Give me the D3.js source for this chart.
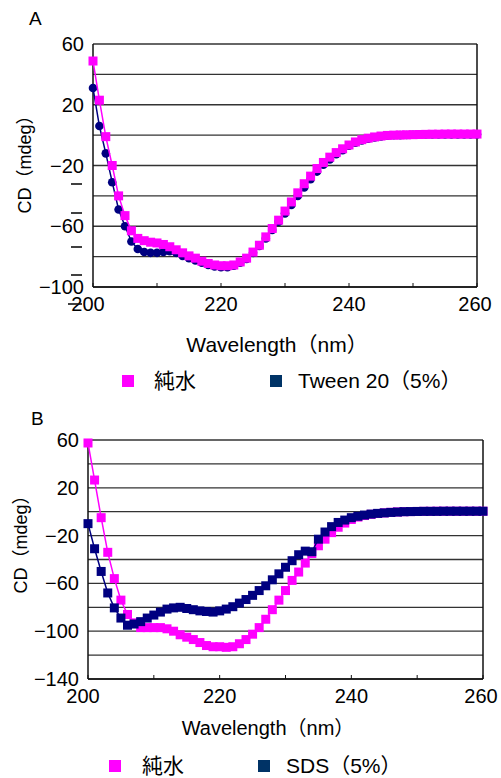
<!DOCTYPE html>
<html>
<head>
<meta charset="utf-8">
<script src="https://cdn.jsdelivr.net/npm/d3@7"></script>
<style>
  body { margin: 0; background: #fff; }
  svg text { font-family: "Liberation Sans", Arial, "Noto Sans CJK JP", sans-serif; fill: #000; }
</style>
</head>
<body>
<div id="chart"></div>
<script>
// wavelength (nm), one reading per nm
const wavelength = [200,201,202,203,204,205,206,207,208,209,210,211,212,213,214,215,216,217,218,219,
  220,221,222,223,224,225,226,227,228,229,230,231,232,233,234,235,236,237,238,239,
  240,241,242,243,244,245,246,247,248,249,250,251,252,253,254,255,256,257,258,259,260];

// panel A
const waterA = [48.8,23,-1,-20,-40,-53,-63,-68,-69.5,-70.5,-71,-72,-73.5,-75.5,-77.5,-79.5,-81,-83,-84.5,-85.5,
  -86,-86,-85.5,-83.5,-81,-77,-72.5,-67,-61.5,-56,-50,-44,-38,-32,-27,-22,-18,-14.5,-11.5,-9,
  -6.5,-4.5,-3,-2,-1.2,-0.6,-0.2,0,0.1,0.2,0.3,0.4,0.5,0.6,0.6,0.7,0.7,0.7,0.7,0.7,0.7];
const tweenA = [31,6,-12,-31,-49,-60,-70,-75,-77,-77.5,-77.5,-77,-76.5,-77.5,-79.5,-81,-82.5,-84,-85.5,-86.5,
  -87,-87,-86,-84,-81.5,-77.5,-73,-68,-62.5,-57,-51.5,-46,-40,-34.5,-29,-24,-19.5,-16,-12.5,-10,
  -7,-5,-3.5,-2.3,-1.5,-0.8,-0.4,-0.1,0,0.1,0.2,0.3,0.4,0.4,0.5,0.5,0.5,0.5,0.5,0.5,0.5];

// panel B
const waterB = [57.5,26.5,-5,-34,-56,-74,-86,-93,-97,-97,-97,-97,-98,-100,-103,-105,-107,-109.5,-112,-113,
  -113,-113.5,-113,-110.5,-107,-102.5,-97,-90,-82,-74,-66,-57.5,-50.5,-43,-35,-28.5,-23,-17.5,-13,-9.5,
  -6.5,-4.5,-3.2,-2.2,-1.5,-1,-0.5,-0.2,0,0.1,0.2,0.3,0.3,0.4,0.4,0.4,0.4,0.4,0.4,0.4,0.4];
const sdsB = [-10,-31,-50,-68,-80.5,-89,-95,-94,-92,-89,-86.5,-84,-81.5,-80.5,-80,-81,-82,-83,-83.5,-84,
  -83,-81.5,-79.5,-76.5,-73.5,-70,-66,-62,-57,-52,-46.5,-41,-36,-33,-33.5,-23,-17,-12.5,-9,-7,
  -5,-3.8,-2.8,-2,-1.4,-1,-0.6,-0.3,0,0.1,0.2,0.3,0.3,0.3,0.4,0.4,0.4,0.4,0.4,0.4,0.4];

const xTicks = [200,210,220,230,240,250,260];
const xTickLabels = [200,220,240,260];
const yTicksA = [60,40,20,0,-20,-40,-60,-80,-100];
const yLabelsA = [60,20,-20,-60,-100];
const yTicksB = [60,40,20,0,-20,-40,-60,-80,-100,-120,-140];
const yLabelsB = [60,20,-20,-60,-100,-140];

const PINK = "#ff00ff";
const NAVY = "#000080";
const NAVY_KEY = "#003366";

const svg = d3.select("#chart").append("svg")
  .attr("width", 501)
  .attr("height", 778);

const fmt = v => (v < 0 ? "\u2212" + Math.abs(v) : "" + v);

function panel(cfg) {
  const x = d3.scaleLinear().domain([200, 260]).range([cfg.left, cfg.right]);
  const y = d3.scaleLinear().domain(cfg.yDomain).range([cfg.bottom, cfg.top]);
  const g = svg.append("g");

  // grid
  g.selectAll("line.grid")
    .data(cfg.yTicks)
    .enter().append("line")
    .attr("x1", cfg.left).attr("x2", cfg.right)
    .attr("y1", d => y(d)).attr("y2", d => y(d))
    .attr("stroke", "#333").attr("stroke-width", 1.3);

  // frame
  g.append("line").attr("x1", cfg.left).attr("x2", cfg.left)
    .attr("y1", cfg.top).attr("y2", cfg.bottom).attr("stroke", "#111").attr("stroke-width", 1.5);
  g.append("line").attr("x1", cfg.right).attr("x2", cfg.right)
    .attr("y1", cfg.top).attr("y2", cfg.bottom).attr("stroke", "#111").attr("stroke-width", 1.5);
  g.append("line").attr("x1", cfg.left).attr("x2", cfg.right)
    .attr("y1", cfg.bottom).attr("y2", cfg.bottom).attr("stroke", "#111").attr("stroke-width", 1.5);

  // x ticks (inward)
  g.selectAll("line.xt")
    .data(xTicks)
    .enter().append("line")
    .attr("x1", d => x(d)).attr("x2", d => x(d))
    .attr("y1", cfg.bottom).attr("y2", cfg.bottom - 4)
    .attr("stroke", "#111").attr("stroke-width", 1);

  g.selectAll("text.xl")
    .data(xTickLabels)
    .enter().append("text")
    .attr("x", d => x(d) + (d === 200 ? -5 : 0) - (d === 260 ? 2 : 0))
    .attr("y", cfg.bottom + 24)
    .attr("text-anchor", "middle")
    .style("font-size", "20px")
    .text(d => d);

  g.selectAll("text.yl")
    .data(cfg.yLabels)
    .enter().append("text")
    .attr("x", cfg.left - 9)
    .attr("y", d => y(d) + 7)
    .attr("text-anchor", "end")
    .style("font-size", "20px")
    .text(fmt);

  const line = d3.line().x((d, i) => x(wavelength[i])).y(d => y(d));

  cfg.series.forEach(s => {
    g.append("path")
      .datum(s.values)
      .attr("d", line)
      .attr("fill", "none")
      .attr("stroke", s.color)
      .attr("stroke-width", 1.5);
    if (s.shape === "circle") {
      g.append("g").selectAll("circle")
        .data(s.values)
        .enter().append("circle")
        .attr("cx", (d, i) => x(wavelength[i]))
        .attr("cy", d => y(d))
        .attr("r", 4.3)
        .attr("fill", s.color);
    } else {
      g.append("g").selectAll("rect")
        .data(s.values)
        .enter().append("rect")
        .attr("x", (d, i) => x(wavelength[i]) - 4.5)
        .attr("y", d => y(d) - 4.5)
        .attr("width", 9).attr("height", 9)
        .attr("fill", s.color);
    }
  });

  // panel letter
  svg.append("text").attr("x", cfg.titleX).attr("y", cfg.titleY)
    .style("font-size", "19px").text(cfg.title);

  // y title
  svg.append("text")
    .attr("transform", `translate(${cfg.yTitleX},${cfg.yTitleY}) rotate(-90)`)
    .attr("text-anchor", "middle")
    .style("font-size", "18px")
    .text("CD（mdeg）");

  // x title
  svg.append("text")
    .attr("x", cfg.xTitleX).attr("y", cfg.xTitleY)
    .attr("text-anchor", "middle")
    .style("font-size", cfg.xTitleSize)
    .text(cfg.xTitle);

  // legend
  const lg = svg.append("g");
  cfg.legend.forEach(l => {
    lg.append("rect").attr("x", l.x).attr("y", cfg.legendY - 6)
      .attr("width", 12).attr("height", 12).attr("fill", l.color);
    lg.append("text").attr("x", l.tx).attr("y", cfg.legendY + 7)
      .style("font-size", "21px").text(l.label);
  });
}

panel({
  left: 93, right: 477, top: 44, bottom: 287, yDomain: [-100, 60],
  yTicks: yTicksA, yLabels: yLabelsA,
  series: [
    {values: tweenA, color: NAVY, shape: "circle"},
    {values: waterA, color: PINK, shape: "square"}
  ],
  title: "A", titleX: 29, titleY: 25,
  yTitleX: 31, yTitleY: 160,
  xTitle: "Wavelength（nm）", xTitleX: 277, xTitleY: 352, xTitleSize: "21px",
  legendY: 381,
  legend: [
    {x: 122, tx: 154, color: PINK, label: "純水"},
    {x: 270, tx: 298, color: NAVY_KEY, label: "Tween 20（5%）"}
  ]
});

panel({
  left: 88, right: 483, top: 440, bottom: 679, yDomain: [-140, 60],
  yTicks: yTicksB, yLabels: yLabelsB,
  series: [
    {values: waterB, color: PINK, shape: "square"},
    {values: sdsB, color: NAVY, shape: "square"}
  ],
  title: "B", titleX: 31, titleY: 425,
  yTitleX: 27, yTitleY: 540,
  xTitle: "Wavelength（nm）", xTitleX: 268, xTitleY: 735, xTitleSize: "20px",
  legendY: 766,
  legend: [
    {x: 109, tx: 142, color: PINK, label: "純水"},
    {x: 258, tx: 286, color: NAVY_KEY, label: "SDS（5%）"}
  ]
});

// stray dash marks left of panel A's axis
svg.selectAll("line.dash")
  .data([184, 213, 247, 275, 304])
  .enter().append("line")
  .attr("x1", (d, i) => i === 4 ? 68 : 71).attr("x2", 82)
  .attr("y1", d => d).attr("y2", d => d)
  .attr("stroke", "#111").attr("stroke-width", 1.6);
</script>
</body>
</html>
